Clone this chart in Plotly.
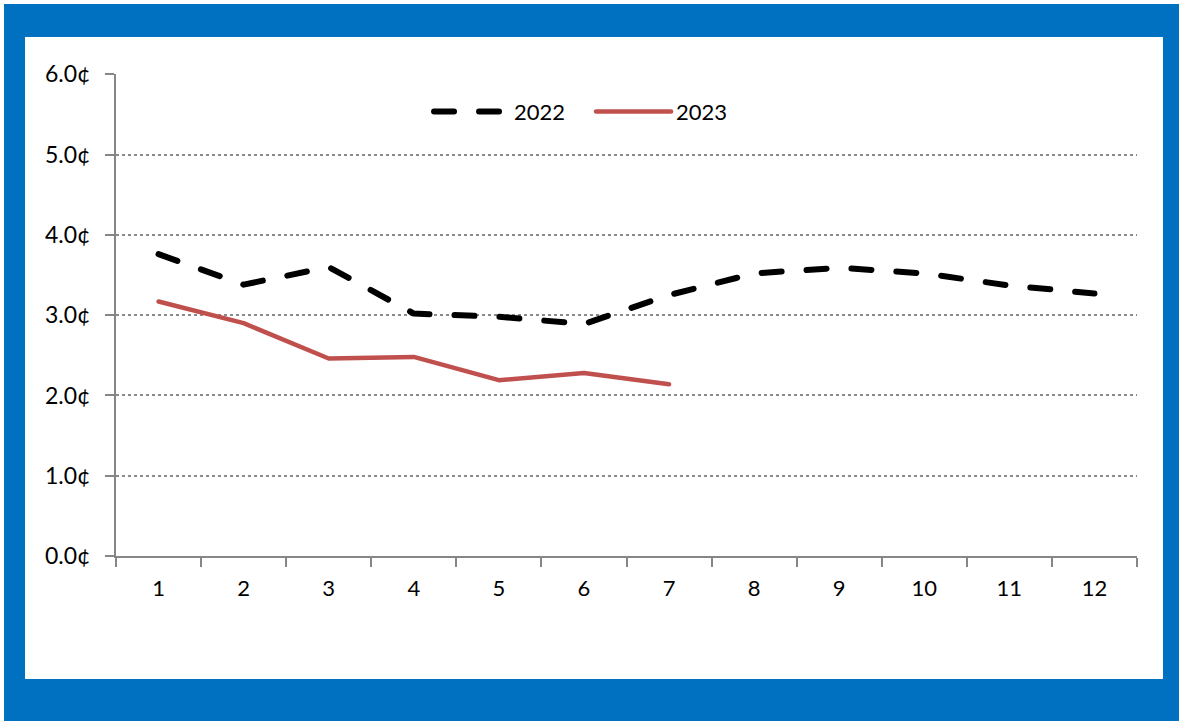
import plotly.graph_objects as go

months = [1, 2, 3, 4, 5, 6, 7, 8, 9, 10, 11, 12]
y2022 = [3.76, 3.38, 3.60, 3.02, 2.98, 2.89, 3.25, 3.52, 3.59, 3.52, 3.37, 3.27]
months2023 = [1, 2, 3, 4, 5, 6, 7]
y2023 = [3.17, 2.90, 2.46, 2.48, 2.19, 2.28, 2.14]
yticks = [0, 1, 2, 3, 4, 5, 6]
ytick_labels = ["0.0¢", "1.0¢", "2.0¢", "3.0¢", "4.0¢", "5.0¢", "6.0¢"]

FONT = "Lato, 'Open Sans', sans-serif"
BLUE = "#0070C0"

fig = go.Figure()
fig.add_trace(go.Scatter(x=months, y=y2022, mode="lines", name="2022",
                         line=dict(color="black", width=6, dash="20px,25px")))
fig.add_trace(go.Scatter(x=months2023, y=y2023, mode="lines", name="2023",
                         line=dict(color="#C0504D", width=4.5)))

# blue frame
fig.add_shape(type="rect", xref="paper", yref="paper", layer="below",
              x0=(4-116)/1021, x1=(1179-116)/1021, y0=-165/482, y1=(721-4-165)/482,
              fillcolor=BLUE, line_width=0)
fig.add_shape(type="rect", xref="paper", yref="paper", layer="below",
              x0=(25-116)/1021, x1=(1163-116)/1021, y0=(721-679-165)/482, y1=(721-37-165)/482,
              fillcolor="white", line_width=0)

fig.update_layout(
    width=1179, height=721,
    margin=dict(l=116, r=42, t=74, b=165),
    paper_bgcolor="white", plot_bgcolor="white",
    font=dict(family=FONT, size=22, color="black"),
    showlegend=True,
    legend=dict(orientation="h", x=0.3066, y=0.922, xanchor="left", yanchor="middle",
                bgcolor="rgba(0,0,0,0)", font=dict(size=22), itemwidth=75,
                entrywidth=72, entrywidthmode="pixels",
                traceorder="normal"),
    xaxis=dict(range=[0.5, 12.5], tickvals=months, ticks="", showgrid=False,
               showline=True, linecolor="#868686", linewidth=2, zeroline=False,
               ticklabelstandoff=12, tickfont=dict(size=22),
               minor=dict(tick0=0.5, dtick=1, ticks="outside", ticklen=9,
                          tickcolor="#868686", tickwidth=2, showgrid=False)),
    yaxis=dict(range=[0, 6.004], tickvals=yticks, ticktext=ytick_labels,
               ticks="outside", ticklen=9, tickcolor="#868686", tickwidth=2,
               showline=True, linecolor="#868686", linewidth=2,
               showgrid=True, gridcolor="#8a8a8a", gridwidth=1.5, griddash="dot",
               zeroline=False, ticklabelstandoff=10, tickfont=dict(size=23)),
)

post = (
    "document.body.style.margin='0';document.body.style.padding='0';"
    "document.querySelectorAll('.js-line, .legendlines path').forEach(function(p){"
    "p.style.strokeLinecap='round';p.style.strokeLinejoin='round';});"
)
fig.write_html("out.html", post_script=post, config={"displayModeBar": False})
